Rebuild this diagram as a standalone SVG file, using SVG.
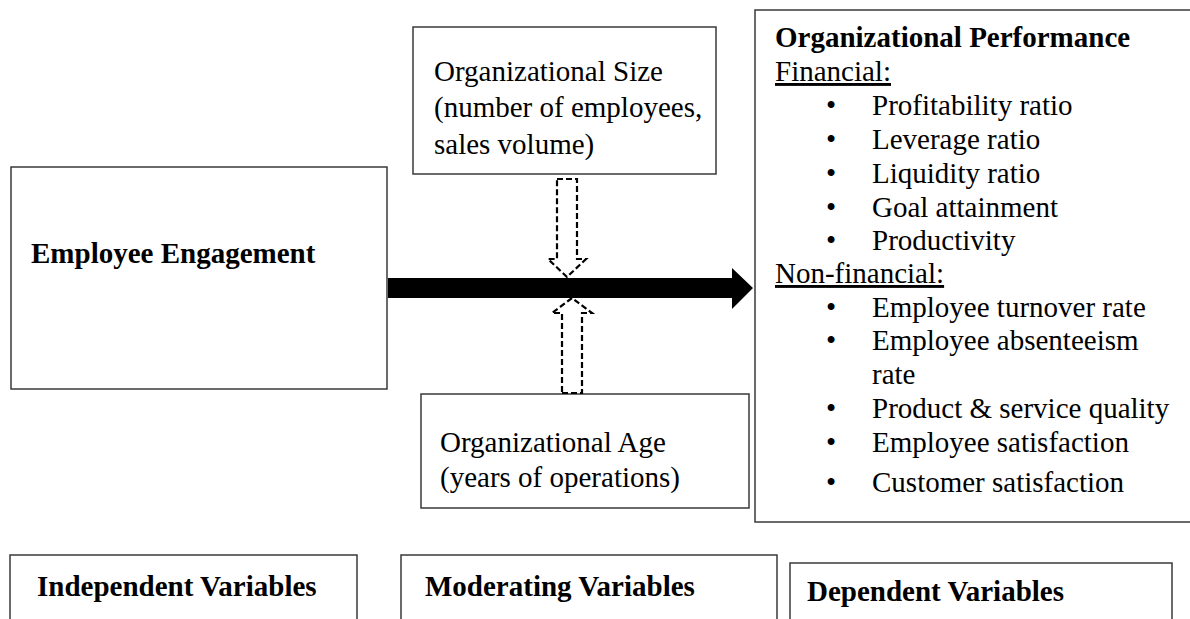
<svg xmlns="http://www.w3.org/2000/svg" width="1190" height="619" viewBox="0 0 1190 619">
  <style>
    .box { fill: #ffffff; stroke: #3a3a3a; stroke-width: 1.5; }
    .t { font-family: "Liberation Serif", "Times New Roman", serif; font-size: 29px; fill: #000000; }
    .b { font-weight: bold; }
    .u { text-decoration: underline; }
    .dash { fill: none; stroke: #000000; stroke-width: 2.2; stroke-dasharray: 6 3; }
  </style>
  <rect width="1190" height="619" fill="#ffffff"/>

  <!-- independent variable -->
  <g id="employee-engagement">
    <rect class="box" x="11" y="167" width="376" height="222"/>
    <text class="t b" x="31" y="263">Employee Engagement</text>
  </g>

  <!-- moderators -->
  <g id="org-size">
    <rect class="box" x="413" y="27" width="303" height="147"/>
    <text class="t" x="434" y="81">Organizational Size</text>
    <text class="t" x="434" y="117">(number of employees,</text>
    <text class="t" x="434" y="154">sales volume)</text>
  </g>

  <g id="org-age">
    <rect class="box" x="421" y="394" width="328" height="114"/>
    <text class="t" x="440" y="452">Organizational Age</text>
    <text class="t" x="440" y="487">(years of operations)</text>
  </g>

  <!-- dependent variable -->
  <g id="org-performance">
    <rect class="box" x="755" y="10" width="450" height="512"/>
    <text class="t b" x="775" y="47">Organizational Performance</text>
    <text class="t u" x="775" y="81">Financial:</text>
    <g class="t">
      <text x="826" y="115">•</text><text x="872" y="115">Profitability ratio</text>
      <text x="826" y="149">•</text><text x="872" y="149">Leverage ratio</text>
      <text x="826" y="183">•</text><text x="872" y="183">Liquidity ratio</text>
      <text x="826" y="217">•</text><text x="872" y="217">Goal attainment</text>
      <text x="826" y="250">•</text><text x="872" y="250">Productivity</text>
    </g>
    <text class="t u" x="775" y="283">Non-financial:</text>
    <g class="t">
      <text x="826" y="317">•</text><text x="872" y="317">Employee turnover rate</text>
      <text x="826" y="350">•</text><text x="872" y="350">Employee absenteeism</text>
      <text x="872" y="384">rate</text>
      <text x="826" y="418">•</text><text x="872" y="418">Product &amp; service quality</text>
      <text x="826" y="452">•</text><text x="872" y="452">Employee satisfaction</text>
      <text x="826" y="492">•</text><text x="872" y="492">Customer satisfaction</text>
    </g>
  </g>

  <!-- legend boxes -->
  <g id="legend-independent">
    <rect class="box" x="10" y="555" width="347" height="80"/>
    <text class="t b" x="37" y="596">Independent Variables</text>
  </g>
  <g id="legend-moderating">
    <rect class="box" x="401" y="555" width="376" height="80"/>
    <text class="t b" x="425" y="596">Moderating Variables</text>
  </g>
  <g id="legend-dependent">
    <rect class="box" x="790" y="563" width="382" height="80"/>
    <text class="t b" x="807" y="601">Dependent Variables</text>
  </g>

  <!-- connectors -->
  <g id="connectors">
    <polygon points="388,278 732,278 732,268 753,288 732,309 732,298 388,298" fill="#000000"/>
    <polygon class="dash" points="557,179 577,179 577,259 586,259 567,277 548,259 557,259"/>
    <polygon class="dash" points="562,393 582,393 582,313 592,313 572,298 552,313 562,313"/>
  </g>
</svg>
